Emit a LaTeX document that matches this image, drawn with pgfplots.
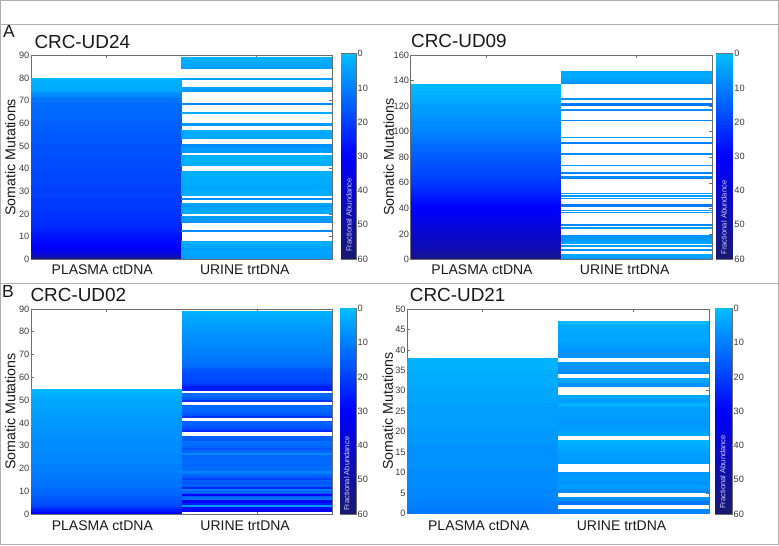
\documentclass[border=0pt]{standalone}
\usepackage{pgfplots}
\usepackage{pgfplotstable}
\usepackage{fontspec}
\setmainfont{Liberation Sans}
\pgfplotsset{compat=1.18}
\definecolor{frame}{RGB}{175,175,175}
\definecolor{axgray}{RGB}{110,110,110}
\definecolor{txt}{RGB}{25,25,25}
\definecolor{lav}{RGB}{205,205,250}
\newcommand{\cellmark}[4]{\pgfdeclareplotmark{#1}{\pgfpathrectangle{\pgfpoint{-#3}{0pt}}{\pgfpoint{#4}{#2}}\pgfusepathqfill}}
\cellmark{cellA}{2.38pt}{75.3pt}{150.6pt}
\cellmark{cellC}{1.39pt}{75.3pt}{150.6pt}
\cellmark{cellB}{2.39pt}{75.3pt}{150.6pt}
\cellmark{cellD}{4.2pt}{75.3pt}{150.6pt}
\cellmark{barA}{3.5pt}{7.5pt}{15pt}
\cellmark{barC}{3.5pt}{8.2pt}{16.4pt}
\cellmark{barB}{3.5pt}{8pt}{16pt}
\cellmark{barD}{3.5pt}{8.35pt}{16.7pt}
\newcommand{\xl}[2]{\makebox[0pt]{\kern#1 #2}}
\pgfplotstableread[row sep=\\]{y c\\1 0.5\\2 1.5\\3 2.5\\4 3.5\\5 4.5\\6 5.5\\7 6.5\\8 7.5\\9 8.5\\10 9.5\\11 10.5\\12 11.5\\13 12.5\\14 13.5\\15 14.5\\16 15.5\\17 16.5\\18 17.5\\19 18.5\\20 19.5\\21 20.5\\22 21.5\\23 22.5\\24 23.5\\25 24.5\\26 25.5\\27 26.5\\28 27.5\\29 28.5\\30 29.5\\31 30.5\\32 31.5\\33 32.5\\34 33.5\\35 34.5\\36 35.5\\37 36.5\\38 37.5\\39 38.5\\40 39.5\\41 40.5\\42 41.5\\43 42.5\\44 43.5\\45 44.5\\46 45.5\\47 46.5\\48 47.5\\49 48.5\\50 49.5\\51 50.5\\52 51.5\\53 52.5\\54 53.5\\55 54.5\\56 55.5\\57 56.5\\58 57.5\\59 58.5\\60 59.5\\}\cbtab
\pgfplotsset{
  colormap={deep}{rgb255(0cm)=(0,191,255) rgb255(1cm)=(0,0,255) rgb255(2cm)=(25,25,112)},
  panel/.style={
    scale only axis, anchor=south west, xmin=0.5, xmax=2.5, xtick={1,2},
    ymin=0, tick align=inside, major tick length=3pt, axis on top,
    axis line style={axgray,line width=0.7pt}, tick style={axgray,line width=0.6pt},
    x tick label style={font=\fontsize{14}{14}\selectfont,text=txt},
    y tick label style={font=\fontsize{9.2}{10}\selectfont,text=txt!85,/pgf/number format/assume math mode=true,inner sep=1.5pt},
    ylabel={Somatic Mutations},
    every axis y label/.style={at={(axis description cs:#1,0.5)},rotate=90,anchor=center,font=\fontsize{14.2}{14}\selectfont,text=txt},
    point meta min=0, point meta max=60, every axis title shift=0pt,
  },
  panel/.default={-0.069},
  bar/.style={
    scale only axis, anchor=south west, xmin=-1, xmax=1, xtick=\empty,
    ymin=0, ymax=60, y dir=reverse, ytick={0,10,...,60}, yticklabel pos=right,
    tick align=inside, major tick length=0pt, axis on top,
    axis line style={axgray,line width=0.6pt},
    y tick label style={font=\fontsize{9.2}{10}\selectfont,text=txt!85,/pgf/number format/assume math mode=true,inner sep=1.5pt},
    point meta min=0, point meta max=60,
  },
  ttl/.style 2 args={title={#2},title style={at={(axis description cs:#1,1.035)},anchor=base west,inner sep=0pt,font=\fontsize{18.9}{19}\selectfont,text=txt}},
  cells/.style={scatter,only marks,mark=#1,point meta=\thisrow{c},
    scatter/use mapped color={draw=mapped color,fill=mapped color}},
  /pgfplots/table/rows/.style={/pgfplots/table/row sep=\\,/pgfplots/table/x expr=#1,/pgfplots/table/y=y},
}
\begin{document}
\begin{tikzpicture}[x=1pt,y=1pt]
\path[use as bounding box] (0,0) rectangle (779,546);
\draw[frame,line width=1pt] (0.5,545.5) rectangle (778.5,1);
\draw[frame,line width=1pt] (0.5,521.5) -- (778.5,521.5);
\draw[frame,line width=1pt] (0.5,262.7) -- (778.5,262.7);

% A: CRC-UD24
\begin{axis}[panel,at={(31pt,286.5pt)},width=301pt,height=204.3pt,ymax=90,ytick={0,10,...,90},
  x tick label style={yshift=-2pt},
  xticklabels={\xl{-8pt}{PLASMA ctDNA},\xl{-24pt}{URINE trtDNA}},ttl={0.011}{CRC-UD24}]
\addplot[cells=cellA] table[rows=1]{y c\\0 52\\1 44\\2 38\\3 34\\4 32\\5 31\\6 30\\7 29\\8 28\\9 27\\10 27\\11 26\\12 25\\13 24\\14 24\\15 23\\16 23\\17 23\\18 22\\19 22\\20 22\\21 22\\22 21\\23 21\\24 21\\25 21\\26 21\\27 20\\28 20\\29 20\\30 20\\31 20\\32 20\\33 19\\34 19\\35 19\\36 19\\37 19\\38 19\\39 19\\40 18\\41 18\\42 18\\43 18\\44 18\\45 18\\46 17\\47 17\\48 17\\49 17\\50 17\\51 16\\52 16\\53 16\\54 16\\55 16\\56 15\\57 15\\58 15\\59 15\\60 15\\61 14\\62 14\\63 14\\64 14\\65 14\\66 13\\67 13\\68 13\\69 12\\70 12\\71 9\\72 8\\73 7\\74 4\\75 3\\76 3\\77 3\\78 2\\79 1\\};
\addplot[cells=cellA] table[rows=2]{y c\\0 5\\1 5\\2 4\\3 4\\4 5\\5 4\\6 3\\7 3\\12 8\\16 7\\17 6\\18 5\\20 3\\21 3\\22 4\\23 6\\24 4\\26 8\\28 3\\29 3\\30 3\\31 4\\32 4\\33 3\\34 3\\35 3\\36 3\\37 2\\38 3\\41 3\\42 3\\43 2\\44 2\\45 2\\47 6\\48 5\\49 7\\50 8\\53 4\\54 3\\55 4\\56 2\\59 6\\64 3\\68 8\\74 6\\75 4\\79 5\\84 5\\85 4\\86 3\\87 3\\88 2\\};
\end{axis}
\begin{axis}[bar,at={(341pt,287pt)},width=15pt,height=205.3pt]
\addplot[cells=barA] table[x expr=0,y=y]{\cbtab};
\end{axis}
\node[rotate=90,text=lav,font=\fontsize{7.6}{8}\selectfont,inner sep=0pt] at (349,331) {Fractional Abundance};

% top right: CRC-UD09
\begin{axis}[panel=-0.073,at={(410.7pt,286.5pt)},width=301.3pt,height=204.5pt,ymax=160,ytick={0,20,...,160},
  x tick label style={yshift=-2pt},
  xticklabels={\xl{-8pt}{PLASMA ctDNA},\xl{-24pt}{URINE trtDNA}},ttl={0.001}{CRC-UD09}]
\addplot[cells=cellC] table[rows=1]{y c\\0 56\\1 54\\2 52\\3 51\\4 50\\5 49\\6 48\\7 47\\8 46\\9 45\\10 45\\11 44\\12 44\\13 43\\14 43\\15 42\\16 42\\17 41\\18 41\\19 40\\20 40\\21 39\\22 39\\23 38\\24 38\\25 37\\26 37\\27 36\\28 36\\29 35\\30 35\\31 34\\32 34\\33 33\\34 33\\35 32\\36 32\\37 31\\38 31\\39 30\\40 30\\41 30\\42 29\\43 29\\44 28\\45 28\\46 27\\47 27\\48 26\\49 26\\50 25\\51 25\\52 24\\53 24\\54 23\\55 23\\56 22\\57 22\\58 22\\59 21\\60 21\\61 21\\62 20\\63 20\\64 20\\65 19\\66 19\\67 19\\68 19\\69 18\\70 18\\71 18\\72 18\\73 17\\74 17\\75 17\\76 17\\77 16\\78 16\\79 16\\80 16\\81 15\\82 15\\83 15\\84 14\\85 14\\86 14\\87 13\\88 13\\89 13\\90 12\\91 12\\92 12\\93 11\\94 11\\95 11\\96 10\\97 10\\98 10\\99 10\\100 9\\101 9\\102 9\\103 9\\104 8\\105 8\\106 8\\107 8\\108 7\\109 7\\110 7\\111 7\\112 6\\113 6\\114 6\\115 6\\116 6\\117 5\\118 5\\119 5\\120 5\\121 5\\122 4\\123 4\\124 4\\125 3\\126 3\\127 3\\128 2\\129 2\\130 2\\131 2\\132 1\\133 1\\134 1\\135 1\\136 1\\};
\addplot[cells=cellC] table[rows=2]{y c\\0 6\\1 5\\2 4\\3 4\\7 7\\10 5\\12 4\\13 4\\14 5\\15 6\\16 6\\17 7\\18 7\\24 6\\26 8\\27 9\\36 6\\38 5\\41 11\\42 11\\47 5\\49 6\\51 6\\63 10\\64 8\\67 9\\73 5\\82 8\\90 11\\91 9\\95 4\\108 9\\116 9\\117 8\\120 12\\121 11\\125 7\\137 7\\138 6\\139 6\\140 5\\141 4\\142 4\\143 3\\144 3\\145 3\\146 4\\};
\end{axis}
\begin{axis}[bar,at={(716.3pt,287pt)},width=16.4pt,height=205.3pt]
\addplot[cells=barC] table[x expr=0,y=y]{\cbtab};
\end{axis}
\node[rotate=90,text=lav,font=\fontsize{7.6}{8}\selectfont,inner sep=0pt] at (724,328.5) {Fractional Abundance};

% B: CRC-UD02
\begin{axis}[panel,at={(31pt,32pt)},width=301.5pt,height=205pt,ymax=90,ytick={0,10,...,90},
  x tick label style={yshift=-3.5pt},
  xticklabels={\xl{-8pt}{PLASMA ctDNA},\xl{-24pt}{URINE trtDNA}},ttl={-0.002}{CRC-UD02}]
\addplot[cells=cellB] table[rows=1]{y c\\0 30\\1 26\\2 22\\3 19\\4 18\\5 17\\6 16\\7 15\\8 14\\9 14\\10 13\\11 13\\12 12\\13 12\\14 12\\15 11\\16 11\\17 11\\18 10\\19 10\\20 10\\21 10\\22 9\\23 9\\24 9\\25 9\\26 9\\27 8\\28 8\\29 8\\30 8\\31 8\\32 8\\33 7\\34 7\\35 7\\36 7\\37 7\\38 6\\39 6\\40 6\\41 6\\42 5\\43 5\\44 5\\45 5\\46 4\\47 4\\48 4\\49 4\\50 3\\51 3\\52 2\\53 2\\54 1\\};
\addplot[cells=cellB] table[rows=2]{y c\\1 30\\2 28\\3 6\\4 25\\5 30\\6 12\\7 15\\8 30\\9 15\\10 10\\11 24\\12 15\\13 17\\14 15\\15 20\\16 15\\17 12\\18 9\\19 13\\20 13\\21 14\\22 13\\23 13\\24 14\\25 14\\26 8\\27 14\\28 17\\29 14\\30 13\\31 12\\32 16\\33 15\\36 24\\37 18\\38 16\\39 15\\40 15\\42 22\\43 17\\44 15\\45 14\\46 13\\47 14\\49 22\\50 16\\51 14\\52 13\\54 26\\55 26\\56 22\\57 20\\58 19\\59 18\\60 18\\61 18\\62 17\\63 16\\64 13\\65 13\\66 12\\67 12\\68 11\\69 11\\70 10\\71 10\\72 9\\73 9\\74 8\\75 8\\76 8\\77 7\\78 7\\79 7\\80 6\\81 6\\82 5\\83 5\\84 4\\85 4\\86 3\\87 3\\88 2\\};
\end{axis}
\begin{axis}[bar,at={(340pt,32pt)},width=16pt,height=205.7pt]
\addplot[cells=barB] table[x expr=0,y=y]{\cbtab};
\end{axis}
\node[rotate=90,text=lav,font=\fontsize{7.6}{8}\selectfont,inner sep=0pt] at (346.7,72.3) {Fractional Abundance};

% bottom right: CRC-UD21
\begin{axis}[panel=-0.065,at={(407.3pt,32.5pt)},width=301.7pt,height=204.5pt,ymax=50,ytick={0,5,...,50},
  x tick label style={yshift=-3.5pt},
  xticklabels={\xl{-8pt}{PLASMA ctDNA},\xl{-24pt}{URINE trtDNA}},ttl={0.008}{CRC-UD21}]
\addplot[cells=cellD] table[rows=1]{y c\\0 11\\1 10\\2 10\\3 9\\4 9\\5 9\\6 8\\7 8\\8 8\\9 8\\10 8\\11 7\\12 7\\13 7\\14 7\\15 7\\16 7\\17 6\\18 6\\19 6\\20 6\\21 5\\22 5\\23 5\\24 5\\25 5\\26 5\\27 4\\28 4\\29 4\\30 4\\31 3\\32 3\\33 3\\34 3\\35 2\\36 2\\37 2\\};
\addplot[cells=cellD] table[rows=2]{y c\\0 9\\2 12\\3 7\\5 8\\6 5\\7 7\\8 5\\9 6\\12 6\\13 5\\14 5\\15 4\\16 3\\17 2\\19 4\\20 5\\21 6\\22 6\\23 5\\24 5\\25 5\\26 2\\27 5\\28 4\\31 7\\32 4\\34 8\\35 7\\36 6\\38 7\\39 7\\40 6\\41 5\\42 4\\43 4\\44 4\\45 3\\46 1\\};
\end{axis}
\begin{axis}[bar,at={(715.3pt,32pt)},width=16.7pt,height=205.5pt]
\addplot[cells=barD] table[x expr=0,y=y]{\cbtab};
\end{axis}
\node[rotate=90,text=lav,font=\fontsize{7.6}{8}\selectfont,inner sep=0pt] at (722.7,74) {Fractional Abundance};

\node[anchor=base west,inner sep=0pt,text=txt,font=\fontsize{17.5}{18}\selectfont] at (3,508) {A};
\node[anchor=base west,inner sep=0pt,text=txt,font=\fontsize{17.5}{18}\selectfont] at (2,248.3) {B};
\end{tikzpicture}
\end{document}
